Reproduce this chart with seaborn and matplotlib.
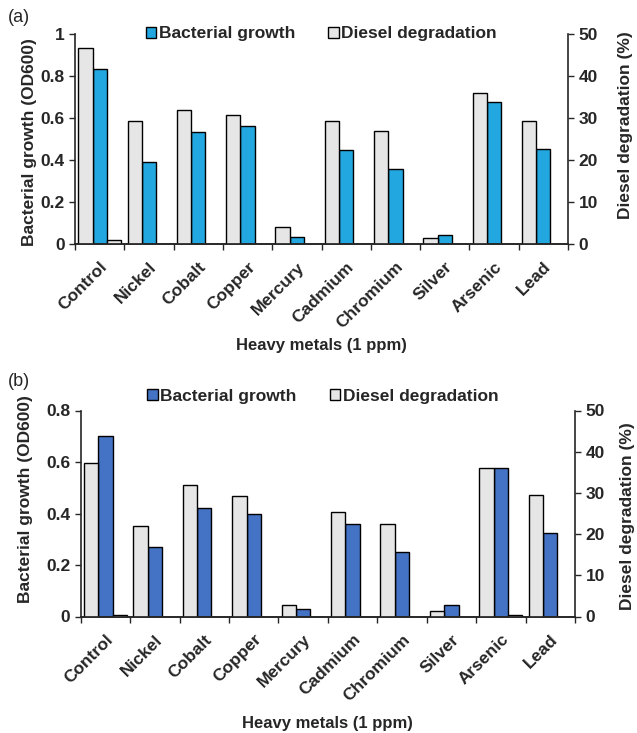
import numpy as np
import pandas as pd
import matplotlib
matplotlib.use('Agg')
import matplotlib.pyplot as plt
import seaborn as sns
from matplotlib.patches import Patch

metals = ['Control', 'Nickel', 'Cobalt', 'Copper', 'Mercury',
          'Cadmium', 'Chromium', 'Silver', 'Arsenic', 'Lead']

# panel (a)
growth_a = [0.835, 0.392, 0.532, 0.561, 0.032, 0.449, 0.358, 0.043, 0.675, 0.454]
growth_err_a = [0.0, 0.005, 0.0, 0.0, 0.0, 0.015, 0.0, 0.0, 0.014, 0.0]
degr_a = [46.7, 29.4, 32.0, 30.7, 4.0, 29.4, 26.8, 1.4, 36.0, 29.4]
extra_a = [1.0, np.nan, np.nan, np.nan, np.nan, np.nan, np.nan, np.nan, np.nan, np.nan]

# panel (b)
growth_b = [0.700, 0.270, 0.420, 0.400, 0.030, 0.359, 0.252, 0.045, 0.578, 0.323]
growth_err_b = [0.0] * 10
degr_b = [37.3, 22.0, 31.9, 29.2, 2.7, 25.3, 22.4, 1.45, 36.0, 29.4]
extra_b = [0.4, np.nan, np.nan, np.nan, np.nan, np.nan, np.nan, np.nan, 0.25, np.nan]

grey = '#E6E6E6'
blue_a = '#22A7E0'
blue_b = '#4472C4'

sns.set_style('ticks')
plt.rcParams['font.family'] = ['Liberation Sans', 'DejaVu Sans']
plt.rcParams['font.weight'] = 'bold'

hue_order = ['Diesel degradation', 'Bacterial growth', 'Diesel (control)']


def draw_panel(ax, growth, err, degr, extra, blue, ymax_left, yticks_left,
               legend_xy, xlabelpad, left_lab_xy, right_lab_xy):
    pal = {'Diesel degradation': grey, 'Bacterial growth': blue, 'Diesel (control)': grey}
    left_df = pd.DataFrame({'metal': metals, 'value': growth, 'series': 'Bacterial growth'})
    right_df = pd.concat([
        pd.DataFrame({'metal': metals, 'value': degr, 'series': 'Diesel degradation'}),
        pd.DataFrame({'metal': metals, 'value': extra, 'series': 'Diesel (control)'}),
    ]).dropna()

    sns.barplot(data=left_df, x='metal', y='value', hue='series', order=metals,
                hue_order=hue_order, palette=pal, width=0.87, dodge=True, saturation=1,
                edgecolor='black', linewidth=1, ax=ax, legend=False, errorbar=None)
    ax2 = ax.twinx()
    sns.barplot(data=right_df, x='metal', y='value', hue='series', order=metals,
                hue_order=hue_order, palette=pal, width=0.87, dodge=True, saturation=1,
                edgecolor='black', linewidth=1, ax=ax2, legend=False, errorbar=None)

    # error bars on growth bars
    bars = ax.containers[0]
    xs = [p.get_x() + p.get_width() / 2 for p in bars]
    for x, y, e in zip(xs, growth, err):
        if e > 0:
            ax.errorbar(x, y, yerr=e, color='#555555', capsize=2.5, lw=0.8, capthick=0.8)

    ax.set_xlim(-0.5, 9.5)
    ax.set_ylim(0, ymax_left)
    ax.set_yticks(yticks_left)
    ax.set_yticklabels([('%g' % t) for t in yticks_left])
    ax2.set_ylim(0, 50)
    ax2.set_yticks([0, 10, 20, 30, 40, 50])

    ax.set_xticks(range(10))
    ax.set_xticklabels(metals, rotation=45, ha='right', rotation_mode='anchor',
                       fontsize=12.5, fontweight='bold')
    ax.set_xticks(np.arange(-0.5, 10, 1), minor=True)
    ax.tick_params(axis='x', which='major', length=0, pad=11)
    ax.tick_params(axis='x', which='minor', length=4, width=1, direction='out')
    ax.tick_params(axis='y', length=4, width=1, labelsize=12.5)
    ax2.tick_params(axis='y', length=4, width=1, labelsize=12.5)

    ax.set_ylabel('Bacterial growth (OD600)', fontsize=12.5, fontweight='bold')
    ax.yaxis.set_label_coords(*left_lab_xy)
    ax2.set_ylabel('Diesel degradation (%)', fontsize=12.5, fontweight='bold')
    ax2.yaxis.set_label_coords(*right_lab_xy)
    ax.set_xlabel('Heavy metals (1 ppm)', fontsize=12, fontweight='bold', labelpad=xlabelpad)

    for a in (ax, ax2):
        a.spines['top'].set_visible(False)
        for s in a.spines.values():
            s.set_linewidth(1.2)
    ax.spines['right'].set_visible(False)
    ax2.spines['left'].set_visible(False)

    handles = [Patch(facecolor=blue, edgecolor='black', label='Bacterial growth'),
               Patch(facecolor=grey, edgecolor='black', label='Diesel degradation')]
    ax.legend(handles=handles, ncol=2, frameon=False, loc='center',
              bbox_to_anchor=legend_xy, handlelength=0.6,
              handleheight=0.6, handletextpad=0.15, columnspacing=1.9,
              prop={'weight': 'bold', 'size': 12.5})


fig = plt.figure(figsize=(6.37, 7.33), dpi=100)
ax_a = fig.add_axes([75 / 637, (733 - 244) / 733, (568 - 75) / 637, 210 / 733])
ax_b = fig.add_axes([80.7 / 637, (733 - 616.5) / 733, (575 - 80.7) / 637, 206 / 733])

draw_panel(ax_a, growth_a, growth_err_a, degr_a, extra_a, blue_a, 1.0,
           [0, 0.2, 0.4, 0.6, 0.8, 1.0], (0.5, 1.0), 5,
           (-0.077, 0.485), (1.101, 0.567))
draw_panel(ax_b, growth_b, growth_err_b, degr_b, extra_b, blue_b, 0.8,
           [0, 0.2, 0.4, 0.6, 0.8], (0.49, 1.07), 9,
           (-0.097, 0.57), (1.091, 0.488))

fig.text(8 / 637, 1 - 17 / 733, '(a)', fontsize=13, fontweight='normal', va='center')
fig.text(8 / 637, 1 - 382 / 733, '(b)', fontsize=13, fontweight='normal', va='center')

fig.savefig('out.png', dpi=100)
